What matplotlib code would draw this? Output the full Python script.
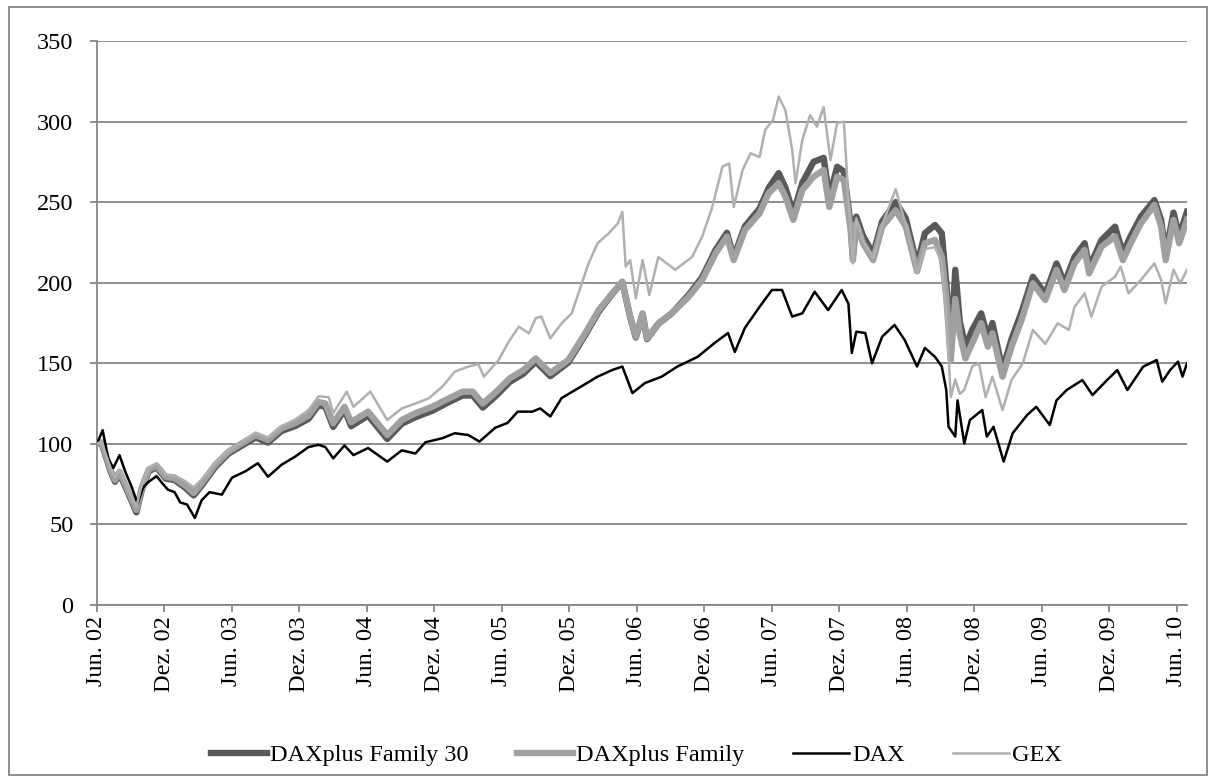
import matplotlib

matplotlib.use("Agg")
import matplotlib.pyplot as plt
from matplotlib.patches import Rectangle

plt.rcParams["font.family"] = ["Liberation Serif", "DejaVu Serif"]

# x positions are months since Jun. 2002
tick_labels = ["Jun. 02", "Dez. 02", "Jun. 03", "Dez. 03", "Jun. 04", "Dez. 04",
               "Jun. 05", "Dez. 05", "Jun. 06", "Dez. 06", "Jun. 07", "Dez. 07",
               "Jun. 08", "Dez. 08", "Jun. 09", "Dez. 09", "Jun. 10"]
tick_months = [0, 6, 12, 18, 24, 30, 36, 42, 48, 54, 60, 66, 72, 78, 84, 90, 96]

fam_m = [0, 0.4, 1.2, 1.6, 2.0, 2.8, 3.5, 4.0, 4.6, 5.3, 6.1, 6.9, 7.8, 8.6, 9.3,
         10.5, 11.7, 12.9, 14.1, 15.2, 16.4, 17.6, 18.8, 19.7, 20.3, 21.0, 22.0,
         22.6, 24.1, 25.8, 27.1, 28.3, 29.8, 31.3, 32.5, 33.4, 34.3, 35.5, 36.7,
         37.9, 39.0, 40.3, 41.9, 43.4, 44.6, 45.8, 46.7, 47.4, 47.9, 48.5, 48.9,
         49.9, 51.1, 52.6, 53.8, 55.0, 56.0, 56.6, 57.6, 58.9, 59.7, 60.6, 61.2,
         61.9, 62.7, 63.7, 64.6, 65.1, 65.8, 66.4, 67.0, 67.2, 67.5, 68.1, 69.0,
         69.8, 71.0, 71.9, 72.9, 73.6, 74.5, 75.1, 75.5, 75.9, 76.3, 76.7, 77.2,
         77.8, 78.6, 79.2, 79.6, 80.5, 81.3, 82.2, 83.2, 84.3, 85.3, 86.0, 86.9,
         87.8, 88.2, 89.3, 90.5, 91.2, 91.9, 92.8, 94.0, 94.6, 95.0, 95.7, 96.2,
         96.9]
daxplus_family = [100, 101, 84, 77.6, 82.7, 70.3, 59, 73.4, 84, 86.5, 79.6, 78.6,
                  74.5, 69.5, 75.5, 86.9, 95.2, 100.4, 105.5, 102.4, 109.7, 112.8,
                  117.5, 126, 125, 112.8, 123, 113.5, 120, 105.5, 114.8, 119, 123,
                  128.3, 132.4, 132.4, 125, 132.4, 140.7, 145.8, 153, 144, 152,
                  168.6, 183, 193.4, 200.6, 179, 166.5, 181, 165.5, 174.8, 181,
                  191.3, 201.7, 218.3, 228.6, 214, 232.7, 243, 255.5, 261.7, 253.4,
                  239, 257.5, 265.8, 270, 247, 265.8, 263.7, 232.7, 214, 236.8,
                  224.5, 214, 234.8, 245, 234.8, 207, 224.5, 226.5, 216, 191.3, 152,
                  190, 168, 153, 162.4, 174.8, 160.3, 168.6, 141.7, 160.3, 176.9,
                  199.6, 189.3, 208, 195.5, 212, 220.3, 205.8, 222.4, 228.6, 214,
                  224.5, 236.8, 248.2, 234.8, 214, 239, 224.5, 239]
daxplus_family_30 = [100, 100.5, 83, 76.5, 81.5, 69, 57.5, 72, 83, 85.5, 78.5, 77.5,
                     73, 68, 74, 85.5, 94, 99, 104, 100.8, 108, 111, 115.5, 124, 123,
                     110.5, 121, 111, 117.5, 103, 112.5, 116.5, 120.5, 126, 130, 130,
                     122.5, 130, 138.5, 143.5, 151, 142, 150.5, 167.5, 182, 193,
                     200.5, 178.5, 166, 180.5, 165, 174.5, 181, 192.5, 203.5, 220.5,
                     231, 216, 235, 246, 258.7, 268, 259, 243, 262, 275, 277.5, 253,
                     272, 269, 236, 217, 241, 229, 218, 238, 250, 240, 211, 230.7,
                     235.8, 230.7, 200, 160, 208, 176, 160, 170.7, 181, 166, 175, 146,
                     165, 182, 203.7, 193, 212, 199.5, 216, 224.5, 209.5, 226.5,
                     234.8, 218.5, 229, 241, 251.3, 239, 218, 243.5, 229, 244]

dax_m = [0, 0.5, 1.0, 1.45, 2.0, 2.5, 3.1, 3.6, 4.1, 4.6, 5.3, 5.75, 6.3, 6.9, 7.4,
         8.0, 8.7, 9.3, 10.0, 11.1, 12.0, 13.2, 14.3, 15.2, 16.4, 17.6, 18.8, 19.7,
         20.3, 21.0, 22.0, 22.8, 24.1, 25.8, 27.1, 28.3, 29.2, 30.7, 31.8, 33.0,
         34.0, 35.4, 36.5, 37.4, 38.7, 39.4, 40.3, 41.3, 42.8, 44.5, 45.8, 46.7,
         47.6, 48.7, 50.2, 51.6, 53.4, 54.9, 56.1, 56.7, 57.6, 58.9, 60.0, 60.9,
         61.8, 62.7, 63.8, 65.0, 66.2, 66.8, 67.1, 67.5, 68.3, 68.9, 69.8, 70.9,
         71.8, 72.9, 73.6, 74.5, 75.1, 75.5, 75.7, 76.3, 76.5, 77.1, 77.6, 78.7,
         79.1, 79.7, 80.6, 81.4, 82.7, 83.5, 84.7, 85.3, 86.2, 87.6, 88.5, 89.8,
         90.7, 91.6, 93.0, 94.2, 94.7, 95.4, 96.1, 96.5, 96.9]
dax = [100, 108.5, 91, 85, 93, 83, 73, 63, 73, 76.5, 80, 76, 71.6, 70, 63.6, 62.4,
       54, 65, 70, 68.5, 79, 83, 88, 79.6, 87, 92, 98, 99.4, 98, 91, 99, 93, 97.4,
       89, 96, 94, 101, 103.5, 106.6, 105.5, 101.4, 110, 113, 120, 120, 122, 117,
       128.4, 134.6, 141.7, 145.8, 148, 131.5, 137.7, 141.7, 148, 154, 162.6,
       168.8, 157, 172, 185, 195.5, 195.5, 179, 181, 194.4, 183, 195.5, 187, 156.4,
       169.6, 168.8, 150, 166.5, 173.8, 164.5, 148, 159.5, 154, 148, 133.4, 110.6,
       104.5, 127, 100.3, 114.8, 121, 104.5, 110.6, 89, 106.6, 118, 123, 111.7,
       127, 133.4, 139.6, 130.3, 139.6, 145.8, 133.4, 147.9, 152, 138.6, 145.8,
       151, 141.7, 150]

gex_m = [0, 0.4, 1.2, 1.6, 2.0, 2.8, 3.5, 4.0, 4.6, 5.3, 6.1, 6.9, 7.8, 8.6, 9.3,
         10.5, 11.7, 12.9, 14.1, 15.2, 16.4, 17.6, 18.8, 19.7, 20.6, 21.0, 22.2,
         22.8, 24.3, 25.8, 27.1, 28.3, 29.5, 30.7, 31.8, 33.0, 33.9, 34.4, 35.7,
         36.6, 37.5, 38.4, 39.0, 39.5, 40.3, 41.3, 42.2, 43.1, 43.7, 44.5, 45.5,
         46.3, 46.7, 47.0, 47.4, 47.9, 48.5, 49.1, 49.9, 51.4, 52.9, 53.8, 54.7,
         55.6, 56.2, 56.6, 57.4, 58.1, 58.9, 59.4, 60.1, 60.6, 61.2, 61.8, 62.1,
         62.7, 63.4, 64.0, 64.6, 65.2, 65.8, 66.4, 66.8, 67.2, 67.5, 68.1, 69.0,
         69.8, 71.0, 71.9, 72.9, 73.6, 74.5, 75.1, 75.5, 75.9, 76.3, 76.7, 77.1,
         77.8, 78.4, 79.0, 79.6, 80.5, 81.3, 82.3, 83.2, 84.3, 85.4, 86.4, 86.9,
         87.8, 88.4, 89.3, 90.5, 91.0, 91.7, 92.8, 94.0, 94.6, 95.0, 95.7, 96.3,
         96.9]
gex = [100, 101.5, 85, 79, 84, 72, 61, 75, 85, 88, 81, 80.5, 77, 73, 78, 88, 96,
       101, 107, 104, 111, 115, 121, 129.5, 129, 119, 132.4, 123, 132.4, 114.8, 122,
       125, 128.3, 135.5, 144.8, 147.9, 149.5, 141.7, 152, 163.4, 172.7, 168.6, 178,
       179, 165.5, 174.8, 181, 199.6, 212, 224.5, 230.7, 236.8, 244, 210, 214, 190.3,
       214, 192.4, 216, 208, 216, 228.6, 247, 272, 274, 247, 270, 280.3, 278, 294.8,
       301, 315.5, 307, 282.4, 261.7, 288.6, 304, 296.8, 309, 276, 299, 300, 251.3,
       212, 240, 226, 215, 236, 258, 236, 206, 221, 222, 212, 180, 129, 140, 131,
       133.4, 148, 150, 129, 141.7, 121, 139.6, 150, 170.7, 162, 174.8, 170.7, 185,
       193.4, 179, 197.5, 203.7, 210, 193.4, 201.7, 212, 201.7, 187.2, 208, 199.6,
       208]

GRID = "#868686"
W, H = 1215, 782

fig = plt.figure(figsize=(W / 100, H / 100), dpi=100)
ax = fig.add_axes([97 / W, 177 / H, 1090 / W, 564 / H])

ax.plot(fam_m, daxplus_family_30, color="#595959", lw=4.6, label="DAXplus Family 30",
        solid_joinstyle="round", zorder=3)
ax.plot(fam_m, daxplus_family, color="#A0A0A0", lw=4.6, label="DAXplus Family",
        solid_joinstyle="round", zorder=4)
ax.plot(dax_m, dax, color="black", lw=1.8, label="DAX", zorder=5)
ax.plot(gex_m, gex, color="#B0B0B0", lw=1.8, label="GEX", zorder=6)

ax.set_xlim(0, 96.9)
ax.set_ylim(0, 350)
ax.set_yticks(range(0, 351, 50))
ax.set_xticks(tick_months)
ax.set_xticklabels(tick_labels, rotation=90)
ax.grid(axis="y", color=GRID, lw=1.3)
ax.set_axisbelow(True)
for side in ("top", "right"):
    ax.spines[side].set_visible(False)
for side in ("left", "bottom"):
    ax.spines[side].set_color(GRID)
    ax.spines[side].set_linewidth(1.3)
ax.tick_params(axis="y", length=5, width=1.3, color=GRID, pad=12, labelsize=17.5)
ax.tick_params(axis="x", length=5, width=1.3, color=GRID, pad=3, labelsize=17.5)

fig.patches.append(Rectangle((9 / W, 7 / H), 1198 / W, 768 / H, transform=fig.transFigure,
                             fill=False, ec=GRID, lw=1.3))

fig.legend(loc="center", bbox_to_anchor=(0.524, 0.0345), ncol=4, frameon=False,
           handlelength=2.3, handletextpad=0.12, columnspacing=2.0, fontsize=17.5)

fig.savefig("out.png", dpi=100)
